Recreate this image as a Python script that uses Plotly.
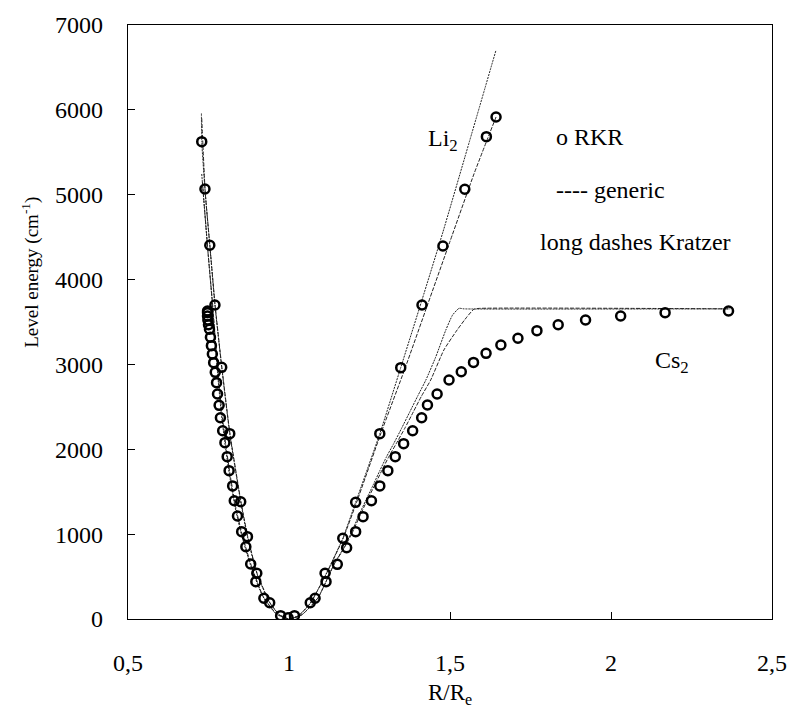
import plotly.graph_objects as go

# ---------------- data ----------------
# RKR turning points, Li2 (R/Re, cm-1)
li2_rkr_r = [0.729, 0.739, 0.754, 0.770, 0.791, 0.816, 0.850, 0.871, 0.900, 0.940, 0.997,
             1.066, 1.112, 1.167, 1.207, 1.282, 1.347, 1.413, 1.478, 1.546, 1.613, 1.643]
li2_rkr_e = [5625, 5067, 4404, 3700, 2966, 2184, 1382, 970, 539, 192, 15,
             192, 539, 951, 1375, 2184, 2962, 3700, 4395, 5064, 5684, 5916]

# RKR turning points, Cs2 (R/Re, cm-1)
cs2_rkr_r = [0.747, 0.747, 0.747, 0.748, 0.750, 0.753, 0.756, 0.759, 0.762, 0.766, 0.771,
             0.775, 0.778, 0.783, 0.787, 0.794, 0.801, 0.808, 0.814, 0.825, 0.830, 0.840,
             0.853, 0.866, 0.881, 0.897, 0.922, 0.974,
             1.017, 1.081, 1.115, 1.150, 1.179, 1.207, 1.230, 1.256, 1.282, 1.307, 1.330,
             1.356, 1.384, 1.412, 1.430, 1.460, 1.497, 1.535, 1.573, 1.612, 1.658, 1.711,
             1.770, 1.836, 1.921, 2.030, 2.168, 2.365]
cs2_rkr_e = [3629, 3610, 3571, 3523, 3468, 3414, 3320, 3221, 3123, 3021, 2907,
             2785, 2651, 2518, 2372, 2219, 2078, 1913, 1748, 1568, 1394, 1214,
             1029, 852, 648, 440, 244, 39,
             39, 244, 440, 644, 840, 1029, 1206, 1394, 1568, 1748, 1913,
             2066, 2219, 2372, 2522, 2651, 2816, 2914, 3024, 3131, 3229, 3308,
             3398, 3468, 3523, 3571, 3610, 3629]

# Li2 model curves
li2_gen_r = [0.728, 0.729, 0.739, 0.754, 0.770, 0.791, 0.816, 0.850, 0.871, 0.900, 0.940,
             0.970, 1.000, 1.030, 1.066, 1.115, 1.167, 1.207, 1.282, 1.347, 1.413, 1.478,
             1.546, 1.643]
li2_gen_e = [5957, 5625, 5067, 4404, 3700, 2966, 2184, 1382, 970, 539, 192,
             50, 0, 40, 185, 530, 950, 1375, 2184, 2962, 3760, 4560,
             5440, 6705]
li2_kra_r = [0.729, 0.740, 0.755, 0.771, 0.792, 0.817, 0.851, 0.872, 0.901, 0.941,
             0.971, 1.000, 1.030, 1.066, 1.115, 1.167, 1.210, 1.285, 1.360, 1.430,
             1.500, 1.575, 1.643]
li2_kra_e = [5900, 5020, 4370, 3680, 2950, 2175, 1378, 968, 537, 190,
             48, 0, 40, 185, 525, 940, 1375, 2184, 2950, 3700,
             4450, 5250, 5916]

# Cs2 model curves
cs2_gen_r = [0.729, 0.747, 0.762, 0.770, 0.778, 0.789, 0.800, 0.815, 0.832, 0.852,
             0.880, 0.918, 0.960, 1.000, 1.040, 1.090, 1.140, 1.170, 1.195, 1.215,
             1.238, 1.260, 1.282, 1.303, 1.325, 1.350, 1.375, 1.400, 1.425, 1.456,
             1.487, 1.508, 1.528, 1.543, 2.370]
cs2_gen_e = [5244, 4386, 3720, 3300, 2900, 2450, 2100, 1700, 1330, 1000,
             640, 270, 60, 0, 50, 250, 644, 840, 1029, 1206,
             1394, 1568, 1748, 1913, 2066, 2250, 2440, 2630, 2816, 3091,
             3405, 3582, 3661, 3655, 3655]
cs2_kra_r = [0.731, 0.749, 0.764, 0.772, 0.781, 0.792, 0.803, 0.818, 0.835, 0.855,
             0.883, 0.920, 0.962, 1.000, 1.040, 1.090, 1.140, 1.172, 1.198, 1.219,
             1.242, 1.265, 1.288, 1.310, 1.333, 1.360, 1.386, 1.412, 1.440, 1.481,
             1.522, 1.553, 1.574, 1.590, 2.370]
cs2_kra_e = [5150, 4300, 3650, 3250, 2850, 2420, 2070, 1680, 1310, 985,
             630, 265, 58, 0, 50, 250, 644, 840, 1029, 1206,
             1394, 1568, 1748, 1913, 2066, 2250, 2440, 2630, 2816, 3170,
             3405, 3562, 3650, 3660, 3655]

x_ticks = [0.5, 1.0, 1.5, 2.0, 2.5]
x_tick_text = ["0,5", "1", "1,5", "2", "2,5"]
y_ticks = [0, 1000, 2000, 3000, 4000, 5000, 6000, 7000]

# ---------------- figure ----------------
FONT = "Liberation Serif, Times New Roman, serif"
W, H = 799, 719
L, R, T, B = 128, 22, 25, 100
fig = go.Figure()

curve_style = dict(mode="lines", showlegend=False, hoverinfo="skip")
for r, e, dash in [(li2_kra_r, li2_kra_e, "4px,1.5px"),
                   (cs2_kra_r, cs2_kra_e, "4px,1.5px"),
                   (li2_gen_r, li2_gen_e, "2px,1px"),
                   (cs2_gen_r, cs2_gen_e, "2px,1px")]:
    fig.add_trace(go.Scatter(x=r, y=e, line=dict(color="#222", width=1, dash=dash,
                                                 shape="spline", smoothing=0.5),
                             **curve_style))

marker = dict(symbol="circle-open", size=9, color="black", line=dict(width=2.5, color="black"))
fig.add_trace(go.Scatter(x=cs2_rkr_r, y=cs2_rkr_e, mode="markers", marker=marker,
                         name="Cs2 RKR", showlegend=False))
fig.add_trace(go.Scatter(x=li2_rkr_r, y=li2_rkr_e, mode="markers", marker=marker,
                         name="Li2 RKR", showlegend=False))


def page_to_domain(px, py):
    """Pixel position on the page -> paper coordinates of the plot area."""
    return (px - L) / (W - L - R), 1 - (py - T) / (H - T - B)


ann_font = dict(family=FONT, size=24, color="black")
notes = [
    (445, 140, "Li<sub>2</sub>", "center"),
    (557, 137, "o RKR", "left"),
    (557, 190, "---- generic", "left"),
    (541, 242, "long dashes Kratzer", "left"),
    (657, 362, "Cs<sub>2</sub>", "left"),
]
for px, py, txt, anchor in notes:
    x, y = page_to_domain(px, py)
    fig.add_annotation(x=x, y=y, xref="paper", yref="paper", text=txt, showarrow=False,
                       xanchor=anchor, yanchor="middle", font=ann_font)

# axis titles
x, y = page_to_domain(29, 272)
fig.add_annotation(x=x, y=y, xref="paper", yref="paper", text="Level energy (cm<sup>-1</sup>)",
                   textangle=-90, showarrow=False, xanchor="center", yanchor="middle",
                   font=dict(family=FONT, size=19, color="black"))
x, y = page_to_domain(452, 694)
fig.add_annotation(x=x, y=y, xref="paper", yref="paper", text="R/R<sub>e</sub>",
                   showarrow=False, xanchor="center", yanchor="middle",
                   font=dict(family=FONT, size=23, color="black"))

fig.update_layout(
    width=W, height=H,
    margin=dict(l=L, r=R, t=T, b=B),
    paper_bgcolor="white", plot_bgcolor="white",
    font=dict(family=FONT, color="black"),
    showlegend=False,
)
fig.update_xaxes(range=[0.5, 2.5], tickvals=x_ticks, ticktext=x_tick_text,
                 ticks="inside", ticklen=7, tickcolor="black", tickwidth=1,
                 showline=True, linecolor="black", linewidth=1.3, mirror=True,
                 showgrid=False, zeroline=False,
                 tickfont=dict(family=FONT, size=24), ticklabelstandoff=22)
fig.update_yaxes(range=[0, 7000], tickvals=y_ticks,
                 ticks="inside", ticklen=7, tickcolor="black", tickwidth=1,
                 showline=True, linecolor="black", linewidth=1.3, mirror=True,
                 showgrid=False, zeroline=False,
                 tickfont=dict(family=FONT, size=24), ticklabelstandoff=19)

fig.write_html("out.html")
